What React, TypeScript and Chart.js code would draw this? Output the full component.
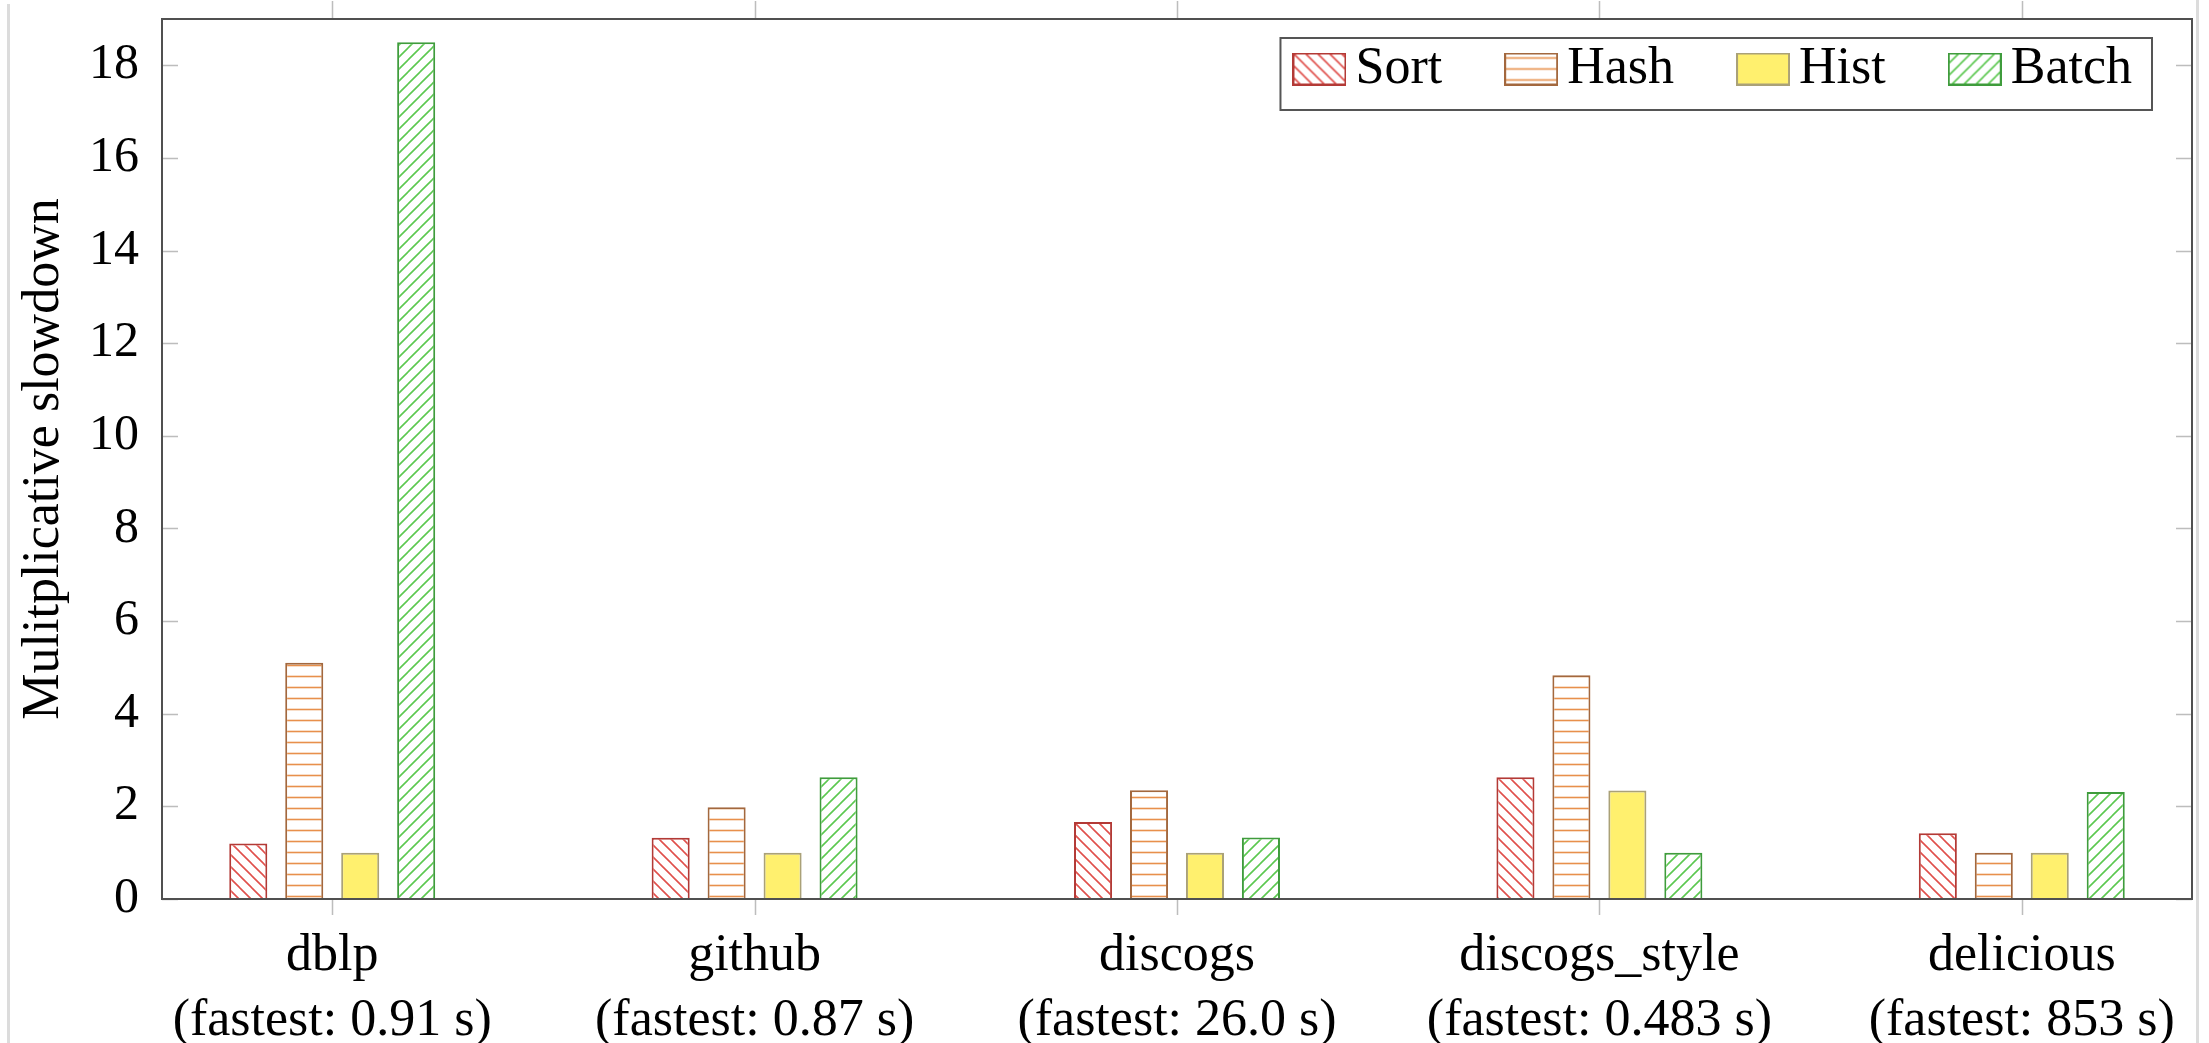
import React, { useEffect, useRef } from 'react';
import { Chart, registerables } from 'chart.js';

Chart.register(...registerables);

const categories = ['dblp', 'github', 'discogs', 'discogs_style', 'delicious'];
const fastest = ['(fastest: 0.91 s)', '(fastest: 0.87 s)', '(fastest: 26.0 s)', '(fastest: 0.483 s)', '(fastest: 853 s)'];
const seriesNames = ['Sort', 'Hash', 'Hist', 'Batch'];
const sortValues = [1.2, 1.32, 1.66, 2.63, 1.42];
const hashValues = [5.1, 1.98, 2.35, 4.83, 1.0];
const histValues = [1.0, 1.0, 1.0, 2.34, 1.0];
const batchValues = [18.5, 2.63, 1.33, 1.0, 2.31];
const yTicks = [0, 2, 4, 6, 8, 10, 12, 14, 16, 18];
const yTitle = 'Mulitplicative slowdown';

const FONT = "'Liberation Serif', 'Times New Roman', serif";
const LEGEND_PAD = 79;

function makeTile(kind: string, color: string, size: number): HTMLCanvasElement {
  const c = document.createElement('canvas');
  c.width = size;
  c.height = size;
  const g = c.getContext('2d') as CanvasRenderingContext2D;
  g.fillStyle = '#ffffff';
  g.fillRect(0, 0, size, size);
  g.strokeStyle = color;
  g.lineWidth = 1.6;
  g.lineCap = 'square';
  g.beginPath();
  if (kind === 'h') {
    g.moveTo(0, size / 2);
    g.lineTo(size, size / 2);
  } else {
    for (const k of [-size, 0, size]) {
      if (kind === 'nw') {
        g.moveTo(k, 0);
        g.lineTo(k + size, size);
      } else {
        g.moveTo(k, size);
        g.lineTo(k + size, 0);
      }
    }
  }
  g.stroke();
  return c;
}

function makeSwatch(fill: HTMLCanvasElement | string, border: string): HTMLCanvasElement {
  const c = document.createElement('canvas');
  c.width = 54;
  c.height = 33;
  const g = c.getContext('2d') as CanvasRenderingContext2D;
  g.fillStyle = typeof fill === 'string' ? fill : (g.createPattern(fill, 'repeat') as CanvasPattern);
  g.fillRect(1, 1, 52, 31);
  g.strokeStyle = border;
  g.lineWidth = 2;
  g.strokeRect(1, 1, 52, 31);
  return c;
}

const framePlugin = {
  id: 'frameTicks',
  beforeLayout(chart: any) {
    if (chart.legend) {
      chart.legend.isHorizontal = () => true;
    }
  },
  afterLayout(chart: any) {
    const legend = chart.legend;
    const ca = chart.chartArea;
    if (legend && ca) {
      const w = legend.right - legend.left;
      legend.right = ca.right + 19;
      legend.left = legend.right - w;
      legend.top = ca.top + 24 - LEGEND_PAD;
      legend.bottom = legend.top + (legend.height || 0);
    }
  },
  afterDatasetsDraw(chart: any) {
    const { ctx, chartArea: ca, scales } = chart;
    const x = scales.x;
    const y = scales.y;
    ctx.save();
    ctx.strokeStyle = '#bdbdbd';
    ctx.lineWidth = 1.5;
    ctx.beginPath();
    y.ticks.forEach((t: any) => {
      const py = Math.round(y.getPixelForValue(t.value)) + 0.5;
      ctx.moveTo(ca.left, py);
      ctx.lineTo(ca.left + 16, py);
      ctx.moveTo(ca.right - 16, py);
      ctx.lineTo(ca.right, py);
    });
    x.ticks.forEach((t: any) => {
      const px = Math.round(x.getPixelForValue(t.value)) + 0.5;
      ctx.moveTo(px, ca.bottom);
      ctx.lineTo(px, ca.bottom + 16);
      ctx.moveTo(px, ca.top - 18);
      ctx.lineTo(px, ca.top);
    });
    ctx.stroke();
    ctx.strokeStyle = '#505050';
    ctx.lineWidth = 2;
    ctx.strokeRect(ca.left, ca.top, ca.right - ca.left, ca.bottom - ca.top);
    ctx.restore();
  },
  afterDraw(chart: any) {
    const legend = chart.legend;
    if (!legend || !legend.legendHitBoxes || !legend.legendHitBoxes.length) return;
    const hb = legend.legendHitBoxes;
    const first = hb[0];
    const last = hb[hb.length - 1];
    const rowY = legend.top + LEGEND_PAD;
    const left = first.left - 29;
    const right = last.left + last.width + 20;
    const top = rowY - 5;
    const bottom = rowY + 67;
    const ctx = chart.ctx;
    ctx.save();
    ctx.strokeStyle = '#555555';
    ctx.lineWidth = 2;
    ctx.strokeRect(left, top, right - left, bottom - top);
    ctx.restore();
  },
};

export default function App() {
  const ref = useRef<HTMLCanvasElement | null>(null);

  useEffect(() => {
    const canvas = ref.current;
    if (!canvas) return;
    const ctx0 = canvas.getContext('2d') as CanvasRenderingContext2D;
    const sortTile = makeTile('nw', '#e0504c', 12);
    const hashTile = makeTile('h', '#e8904c', 11);
    const batchTile = makeTile('ne', '#5cc850', 12);
    const sortPat = ctx0.createPattern(sortTile, 'repeat');
    const hashPat = ctx0.createPattern(hashTile, 'repeat');
    const batchPat = ctx0.createPattern(batchTile, 'repeat');

    const histFill = '#fff06e';
    const borders = ['#b33a36', '#a3683e', '#aaa178', '#3f9c3c'];
    const swatches = [
      makeSwatch(sortTile, borders[0]),
      makeSwatch(hashTile, borders[1]),
      makeSwatch(histFill, borders[2]),
      makeSwatch(batchTile, borders[3]),
    ];

    const toPoints = (vals: number[]) => vals.map((v, i) => ({ x: i, y: v }));
    const common = { borderWidth: 2, categoryPercentage: 0.53, barPercentage: 0.68 };

    const chart = new Chart(canvas, {
      type: 'bar',
      data: {
        datasets: [
          { label: seriesNames[0], data: toPoints(sortValues), backgroundColor: sortPat, borderColor: borders[0], ...common },
          { label: seriesNames[1], data: toPoints(hashValues), backgroundColor: hashPat, borderColor: borders[1], ...common },
          { label: seriesNames[2], data: toPoints(histValues), backgroundColor: histFill, borderColor: borders[2], ...common },
          { label: seriesNames[3], data: toPoints(batchValues), backgroundColor: batchPat, borderColor: borders[3], ...common },
        ] as any,
      },
      options: {
        animation: false,
        responsive: false,
        events: [],
        devicePixelRatio: 1,
        layout: { padding: { left: 0, top: 19, right: 17, bottom: 0 } },
        plugins: {
          tooltip: { enabled: false },
          legend: {
            position: 'chartArea' as any,
            align: 'end',
            labels: {
              usePointStyle: true,
              pointStyleWidth: 20,
              boxWidth: 20,
              boxHeight: 32,
              padding: LEGEND_PAD,
              color: '#000',
              font: { family: FONT, size: 52 },
              generateLabels: (ch: any) =>
                ch.data.datasets.map((ds: any, i: number) => ({
                  text: ds.label,
                  pointStyle: swatches[i],
                  fillStyle: 'rgba(0,0,0,0)',
                  strokeStyle: 'rgba(0,0,0,0)',
                  lineWidth: 0,
                  hidden: false,
                  datasetIndex: i,
                  fontColor: '#000',
                })),
            },
          },
        },
        scales: {
          x: {
            type: 'linear',
            offset: false,
            bounds: 'data',
            min: -0.403,
            max: 4.403,
            afterBuildTicks: (s: any) => {
              s.ticks = categories.map((_, i) => ({ value: i }));
            },
            afterFit: (s: any) => {
              s.height = 144;
              s.paddingLeft = 0;
              s.paddingRight = 0;
            },
            grid: { display: false, offset: false },
            border: { display: false },
            ticks: {
              autoSkip: false,
              maxRotation: 0,
              minRotation: 0,
              padding: 17,
              color: '#000',
              font: { family: FONT, size: 52, lineHeight: 1.25 },
              callback: (v: any) => {
                const i = Math.round(Number(v));
                return [categories[i], fastest[i]];
              },
            },
          },
          y: {
            type: 'linear',
            min: 0,
            max: 19,
            afterBuildTicks: (s: any) => {
              s.ticks = yTicks.map((v) => ({ value: v }));
            },
            afterFit: (s: any) => {
              s.width = 162;
              s.paddingTop = 0;
              s.paddingBottom = 0;
            },
            grid: { display: false },
            border: { display: false },
            ticks: {
              padding: 15,
              color: '#000',
              font: { family: FONT, size: 50 },
              callback: (v: any) => String(v),
            },
            title: {
              display: true,
              text: yTitle,
              color: '#000',
              font: { family: FONT, size: 52, lineHeight: 1.25 },
              padding: { top: 12, bottom: 0 },
            },
          },
        },
      } as any,
      plugins: [framePlugin],
    });
    return () => chart.destroy();
  }, []);

  return (
    <div style={{ position: 'fixed', left: 0, top: 0, width: 2209, height: 1043, background: '#fff', overflow: 'hidden' }}>
      <canvas ref={ref} width={2209} height={1043} style={{ position: 'absolute', left: 0, top: 0, width: 2209, height: 1043 }} />
      <div style={{ position: 'absolute', left: 7, top: 4, width: 3, height: 1039, background: '#dcdcdc' }} />
      <div style={{ position: 'absolute', left: 2196, top: 0, width: 3, height: 1043, background: '#dcdcdc' }} />
    </div>
  );
}
